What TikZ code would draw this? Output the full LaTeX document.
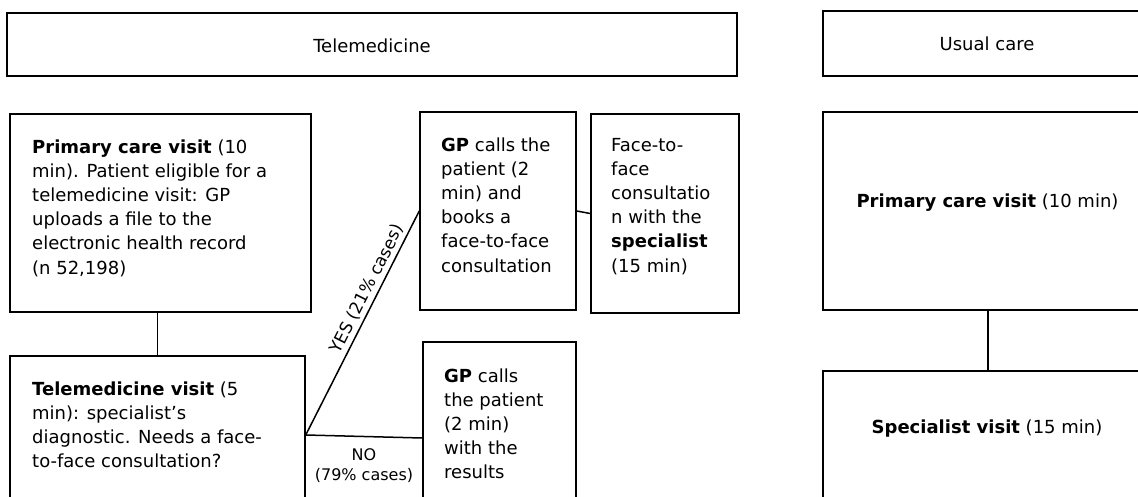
\documentclass[tikz,border=0pt]{standalone}
\usepackage{fontspec}
\setmainfont{DejaVu Sans}
\usetikzlibrary{calc}
\begin{document}
\begin{tikzpicture}[x=1pt,y=-1pt,
  box/.style={draw=black, line width=1.5pt, inner sep=0pt, rectangle},
  headbox/.style={draw=black, line width=2pt, inner sep=0pt, rectangle},
  txt/.style={inner sep=0pt, anchor=north west, align=left, font=\fontsize{18}{24.2}\selectfont},
  ctxt/.style={inner sep=0pt, anchor=base, font=\fontsize{18}{24.2}\selectfont},
  lbl/.style={inner sep=0pt, font=\fontsize{16}{20}\selectfont},
  conn/.style={line width=1.5pt}]
\useasboundingbox (0,0) rectangle (1138,497);
\clip (0,0) rectangle (1138,497);

% header boxes
\node[headbox, minimum width=730pt, minimum height=63pt] (h1) at (372,44.5) {};
\node[headbox, minimum width=328pt, minimum height=65pt] (h2) at (987,43.5) {};
\node[ctxt] (h1t) at (372,53) {Telemedicine};
\node[ctxt] (h2t) at (987,51) {Usual care};

% telemedicine boxes
\node[box, minimum width=301pt, minimum height=198pt] (pc) at (160.5,213) {};
\node[box, minimum width=295pt, minimum height=158pt] (tv) at (157.5,435) {};
\node[box, minimum width=156pt, minimum height=198pt] (gp1) at (498,211) {};
\node[box, minimum width=148pt, minimum height=199pt] (f2f) at (665,213.5) {};
\node[box, minimum width=153pt, minimum height=192pt] (gp2) at (499.5,438) {};

% usual care boxes
\node[box, minimum width=330pt, minimum height=198pt] (upc) at (988,211) {};
\node[box, minimum width=330pt, minimum height=169pt] (usv) at (988,455.5) {};

% texts
\node[txt] (pct) at (32,136) {\strut\textbf{Primary care visit} (10\\min). Patient eligible for a\\telemedicine visit: GP\\uploads a file to the\\electronic health record\\(n 52,198)};
\node[txt] (tvt) at (32,378) {\strut\textbf{Telemedicine visit} (5\\min): specialist’s\\diagnostic. Needs a face-\\to-face consultation?};
\node[txt] (gp1t) at (441,134) {\strut\textbf{GP} calls the\\patient (2\\min) and\\books a\\face-to-face\\consultation};
\node[txt] (f2ft) at (611,134) {\strut Face-to-\\face\\consultatio\\n with the\\\textbf{specialist}\\(15 min)};
\node[txt] (gp2t) at (444,365) {\strut\textbf{GP} calls\\the patient\\(2 min)\\with the\\results};
\node[ctxt] (upct) at (987.5,208) {\textbf{Primary care visit} (10 min)};
\node[ctxt] (usvt) at (987,433) {\textbf{Specialist visit} (15 min)};

% connectors
\draw[conn] (tv.north |- pc.south) -- (tv.north);
\draw[conn] (tv.east) -- node[lbl, sloped, above=3pt, pos=0.63, font=\fontsize{17}{20}\selectfont] (yes) {YES (21\% cases)} (gp1.west);
\draw[conn] (tv.east) -- node[lbl, align=center, below=9pt, pos=0.5] (no) {\strut NO\\(79\% cases)} (gp2.west);
\draw[conn] (gp1.east) -- (f2f.west);
\draw[conn] (upc.south) -- (usv.north);
\end{tikzpicture}
\end{document}
